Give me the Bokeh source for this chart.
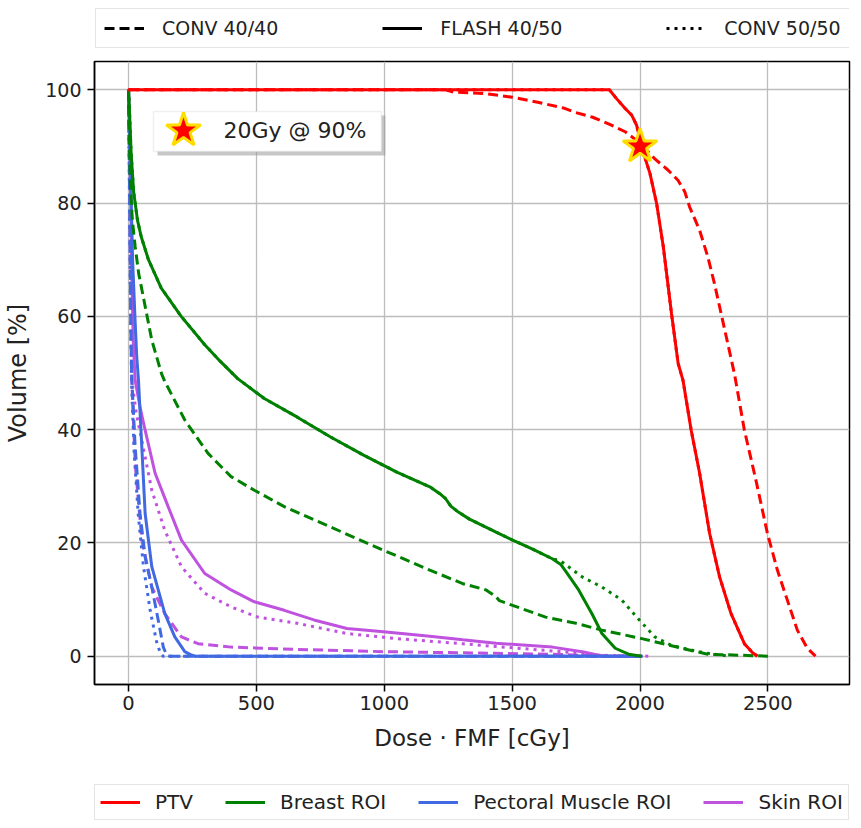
from bokeh.plotting import figure
from bokeh.models import Legend, LegendItem, BoxAnnotation, Label, Range1d, FixedTicker
from bokeh.layouts import column
from bokeh.embed import file_html
from bokeh.resources import INLINE

# ---------------- data ----------------
x_ticks = [0, 500, 1000, 1500, 2000, 2500]
y_ticks = [0, 20, 40, 60, 80, 100]

# PTV
ptv_flash_x = [0, 1880, 1909, 1942, 1968, 1987, 2006, 2039, 2065, 2091, 2123, 2149, 2168, 2200, 2233, 2272, 2311, 2356, 2408, 2440, 2459]
ptv_flash_y = [100, 100, 98.4, 96.7, 95.5, 93.7, 89.9, 85.2, 79.9, 72.3, 60.5, 51.7, 48.7, 39.9, 32.3, 21.7, 14.0, 7.5, 2.2, 0.6, 0]
ptv_conv40_x = [0, 1240, 1270, 1400, 1500, 1600, 1700, 1748, 1812, 1877, 1942, 2000, 2058, 2110, 2149, 2175, 2194, 2233, 2265, 2291, 2317, 2343, 2369, 2408, 2453, 2498, 2537, 2576, 2615, 2654, 2686]
ptv_conv40_y = [100, 100, 99.6, 99.3, 98.7, 97.8, 96.8, 96.0, 95.2, 94.0, 92.6, 90.6, 87.8, 85.8, 84.0, 82.0, 79.3, 75.2, 70.5, 65.8, 60.5, 55.2, 49.9, 39.9, 31.1, 21.7, 15.2, 9.9, 4.6, 1.4, 0]
ptv_conv50_x = [0, 1880, 1909, 1942, 1968, 1987, 2006, 2039, 2065, 2091, 2123, 2149, 2168, 2200, 2233, 2272, 2311, 2356, 2408, 2440, 2459]
ptv_conv50_y = [100, 100, 98.4, 96.7, 95.5, 93.7, 89.9, 85.2, 79.9, 72.3, 60.5, 51.7, 48.7, 39.9, 32.3, 21.7, 14.0, 7.5, 2.2, 0.6, 0]

# Breast ROI
breast_flash_x = [0, 5, 10, 20, 35, 50, 78, 128, 206, 298, 360, 427, 531, 660, 790, 919, 1049, 1178, 1217, 1240, 1260, 1285, 1333, 1437, 1502, 1580, 1657, 1690, 1709, 1760, 1812, 1851, 1903, 1955, 2007]
breast_flash_y = [100, 95, 89, 82, 77, 74, 70, 65, 60, 55, 52, 49, 45.5, 42.2, 38.7, 35.5, 32.5, 29.9, 28.7, 27.8, 26.5, 25.6, 24.2, 21.9, 20.5, 18.9, 17.2, 16.2, 15.0, 11.7, 7.5, 4.0, 1.4, 0.35, 0]
breast_conv40_x = [0, 3, 6.5, 15, 26, 40, 58, 91, 129, 142, 220, 311, 401, 492, 609, 790, 997, 1178, 1307, 1398, 1437, 1450, 1631, 1750, 1851, 2007, 2136, 2200, 2265, 2500]
breast_conv40_y = [100, 92, 84, 77, 72.3, 67.5, 63.4, 55.8, 49.9, 48.5, 41.7, 35.8, 31.7, 29.3, 26.4, 22.8, 18.7, 15.2, 12.8, 11.7, 10.5, 9.8, 6.9, 5.8, 4.6, 3.1, 1.7, 1.0, 0.35, 0]
breast_conv50_x = [0, 5, 10, 20, 35, 50, 78, 128, 206, 298, 360, 427, 531, 660, 790, 919, 1049, 1178, 1217, 1240, 1260, 1285, 1333, 1437, 1502, 1580, 1657, 1690, 1774, 1851, 1929, 1993, 2058, 2123, 2188, 2265, 2317, 2350]
breast_conv50_y = [100, 95, 89, 82, 77, 74, 70, 65, 60, 55, 52, 49, 45.5, 42.2, 38.7, 35.5, 32.5, 29.9, 28.7, 27.8, 26.5, 25.6, 24.2, 21.9, 20.5, 18.9, 17.2, 16.8, 14.0, 12.2, 9.9, 6.6, 3.4, 1.9, 1.2, 0.5, 0.2, 0]

# Pectoral Muscle ROI
pect_flash_x = [0, 8, 16, 25, 32, 39, 52, 65, 91, 142, 181, 220, 246, 260, 2010]
pect_flash_y = [100, 85, 70, 60, 53, 48.7, 36.9, 25.2, 15.8, 7.5, 3.4, 0.8, 0.2, 0, 0]
pect_conv40_x = [0, 5, 10, 13, 26, 45, 65, 91, 116, 136, 149, 160, 2000]
pect_conv40_y = [100, 80, 55, 48.7, 37, 25.2, 17.5, 12.2, 6.4, 1.6, 0.2, 0, 0]
pect_conv50_x = [0, 4, 8, 12, 22, 38, 58, 85, 110, 125, 135, 2000]
pect_conv50_y = [100, 80, 60, 48, 36, 25, 16, 8, 2.5, 0.5, 0, 0]

# Skin ROI
skin_flash_x = [0, 3, 6, 9, 13, 19, 26, 45, 65, 104, 155, 207, 298, 401, 492, 609, 725, 854, 997, 1178, 1307, 1437, 1657, 1774, 1825, 1850, 2010]
skin_flash_y = [100, 95, 88, 80, 66.4, 55, 48.7, 44, 39.9, 32.3, 26.4, 20.5, 14.6, 11.7, 9.6, 8.1, 6.4, 4.9, 4.3, 3.5, 2.9, 2.3, 1.6, 0.8, 0.3, 0.05, 0]
skin_conv40_x = [0, 4, 8, 13, 26, 52, 91, 142, 207, 272, 401, 660, 997, 1437, 1700, 1800, 2000]
skin_conv40_y = [100, 85, 65, 48.7, 34, 20.5, 12.2, 7.5, 3.4, 2.2, 1.6, 1.2, 0.8, 0.5, 0.3, 0.1, 0]
skin_conv50_x = [0, 3, 6, 9, 13, 30, 52, 91, 142, 207, 298, 401, 505, 660, 854, 1049, 1307, 1437, 1696, 1825, 1900, 2040]
skin_conv50_y = [100, 90, 80, 66, 48.7, 43, 38.1, 29.3, 22.2, 15.8, 11.1, 8.7, 6.9, 5.8, 4.0, 3.1, 2.2, 1.7, 0.8, 0.2, 0.1, 0]

star_x = [2000]
star_y = [90]

# ---------------- styling / layout ----------------
FONT = "DejaVu Sans"
TXT = "#222222"
C_PTV, C_BREAST, C_PECT, C_SKIN = "#ff0000", "#008000", "#4169e1", "#c052e0"
DASH, DOT = "10 5", "3 5"
LW = 3

X_START, X_END = -133, 2819
Y_START, Y_END = -5, 105
FRAME_W, FRAME_H = 755, 623
B_LEFT, B_TOP, B_RIGHT, B_BOTTOM = 94, 11, 2, 73
W = B_LEFT + FRAME_W + B_RIGHT
TOP_H, BOT_H = 50, 63
OX, OY = 2, TOP_H   # page offset of the main canvas

p = figure(frame_width=FRAME_W, frame_height=FRAME_H,
           x_range=Range1d(X_START, X_END), y_range=Range1d(Y_START, Y_END),
           min_border_left=B_LEFT, min_border_right=B_RIGHT,
           min_border_top=B_TOP, min_border_bottom=B_BOTTOM,
           output_backend="svg", toolbar_location=None)

p.background_fill_color = "white"
p.border_fill_color = "white"
p.outline_line_color = "black"
p.outline_line_width = 1.5

p.xaxis.ticker = FixedTicker(ticks=x_ticks)
p.yaxis.ticker = FixedTicker(ticks=y_ticks)
p.axis.minor_tick_line_color = None
p.axis.major_tick_in = 0
p.axis.major_tick_out = 7
p.axis.major_tick_line_width = 1.5
p.axis.axis_line_width = 1.5
p.axis.axis_line_color = "black"
p.axis.major_tick_line_color = "black"
p.axis.major_label_text_font = FONT
p.axis.major_label_text_color = TXT
p.axis.axis_label_text_font = FONT
p.axis.axis_label_text_color = TXT
p.axis.axis_label_text_font_style = "normal"
p.xaxis.major_label_text_font_size = "19.5px"
p.yaxis.major_label_text_font_size = "19px"
p.xaxis.major_label_standoff = 4
p.yaxis.major_label_standoff = 6
p.xaxis.axis_label = "Dose \u00b7 FMF [cGy]"
p.yaxis.axis_label = "Volume [%]"
p.xaxis.axis_label_text_font_size = "23px"
p.yaxis.axis_label_text_font_size = "24px"
p.xaxis.axis_label_standoff = 12
p.yaxis.axis_label_standoff = 10

p.xgrid.ticker = FixedTicker(ticks=x_ticks)
p.ygrid.ticker = FixedTicker(ticks=y_ticks)
p.grid.grid_line_color = "#bdbdbd"
p.grid.grid_line_width = 1.3

# ---------------- star annotation box (screen-placed decoration) ----------------
def dx(px):
    return X_START + (px - (OX + B_LEFT)) / FRAME_W * (X_END - X_START)

def dy(py):
    return Y_END - (py - (OY + B_TOP)) / FRAME_H * (Y_END - Y_START)

shadow = BoxAnnotation(left=dx(159), right=dx(387), top=dy(115), bottom=dy(155),
                       fill_color="#999999", fill_alpha=0.55, line_color=None, level="underlay")
box = BoxAnnotation(left=dx(155), right=dx(383), top=dy(111), bottom=dy(151),
                    fill_color="white", fill_alpha=1.0, line_color="#cccccc", line_width=1.5,
                    level="underlay")
p.add_layout(shadow)
p.add_layout(box)

# ---------------- curves ----------------
series = [
    (skin_conv50_x, skin_conv50_y, C_SKIN, DOT),
    (skin_conv40_x, skin_conv40_y, C_SKIN, DASH),
    (skin_flash_x, skin_flash_y, C_SKIN, "solid"),
    (pect_conv50_x, pect_conv50_y, C_PECT, DOT),
    (pect_conv40_x, pect_conv40_y, C_PECT, DASH),
    (pect_flash_x, pect_flash_y, C_PECT, "solid"),
    (breast_conv50_x, breast_conv50_y, C_BREAST, DOT),
    (breast_conv40_x, breast_conv40_y, C_BREAST, DASH),
    (breast_flash_x, breast_flash_y, C_BREAST, "solid"),
    (ptv_conv50_x, ptv_conv50_y, C_PTV, DOT),
    (ptv_conv40_x, ptv_conv40_y, C_PTV, DASH),
    (ptv_flash_x, ptv_flash_y, C_PTV, "solid"),
]
for xs, ys, c, d in series:
    p.line(xs, ys, line_color=c, line_width=LW, line_dash=d)

p.scatter(star_x, star_y, marker="star", size=36, fill_color="#ff0000",
          line_color="#ffdd00", line_width=3)

# star in the annotation box
p.scatter([dx(185)], [dy(130)], marker="star", size=36, fill_color="#ff0000",
          line_color="#ffdd00", line_width=3)
p.add_layout(Label(x=dx(225), y=dy(130), text="20Gy @ 90%", text_font=FONT,
                   text_font_size="22px", text_color=TXT, text_baseline="middle",
                   text_align="left"))


# ---------------- legend strips (separate figures above and below) ----------------
def legend_strip(h):
    f = figure(width=W, height=h, x_range=Range1d(5000, 6000), y_range=Range1d(0, 1),
               min_border_left=0, min_border_right=0, min_border_top=0, min_border_bottom=0,
               x_axis_location=None, y_axis_location=None,
               output_backend="svg", toolbar_location=None)
    f.outline_line_color = None
    f.grid.visible = False
    f.background_fill_color = "white"
    f.border_fill_color = "white"
    return f

p_top = legend_strip(TOP_H)
r_dash = p_top.line(ptv_conv40_x, ptv_conv40_y, line_color="black", line_width=LW, line_dash=DASH)
r_solid = p_top.line(ptv_flash_x, ptv_flash_y, line_color="black", line_width=LW)
r_dot = p_top.line(ptv_conv50_x, ptv_conv50_y, line_color="black", line_width=LW, line_dash=DOT)
top_legend = Legend(items=[LegendItem(label="CONV 40/40", renderers=[r_dash]),
                           LegendItem(label="FLASH 40/50", renderers=[r_solid]),
                           LegendItem(label="CONV 50/50", renderers=[r_dot])],
                    orientation="horizontal", location=(1, 2),
                    glyph_width=40, glyph_height=22, label_height=22,
                    label_standoff=18, spacing=104, padding=8, margin=0,
                    label_text_font=FONT, label_text_font_size="19px",
                    label_text_color=TXT,
                    border_line_color="#cccccc", border_line_width=1.5,
                    background_fill_color="white", background_fill_alpha=1.0)
p_top.add_layout(top_legend)

p_bot = legend_strip(BOT_H)
r_ptv = p_bot.line(ptv_flash_x, ptv_flash_y, line_color=C_PTV, line_width=3)
r_br = p_bot.line(breast_flash_x, breast_flash_y, line_color=C_BREAST, line_width=3)
r_pm = p_bot.line(pect_flash_x, pect_flash_y, line_color=C_PECT, line_width=3)
r_sk = p_bot.line(skin_flash_x, skin_flash_y, line_color=C_SKIN, line_width=3)
bottom_legend = Legend(items=[LegendItem(label="PTV", renderers=[r_ptv]),
                              LegendItem(label="Breast ROI", renderers=[r_br]),
                              LegendItem(label="Pectoral Muscle ROI", renderers=[r_pm]),
                              LegendItem(label="Skin ROI", renderers=[r_sk])],
                       orientation="horizontal", location=(0, 0),
                       glyph_width=40, glyph_height=24, label_height=24,
                       label_standoff=15, spacing=32, padding=5, margin=0,
                       label_text_font=FONT, label_text_font_size="20px",
                       label_text_color=TXT,
                       border_line_color="#cccccc", border_line_width=1.5,
                       background_fill_color="white", background_fill_alpha=1.0)
p_bot.add_layout(bottom_legend)

layout = column(p_top, p, p_bot, spacing=0)
open("out.html", "w").write(file_html(layout, INLINE))
